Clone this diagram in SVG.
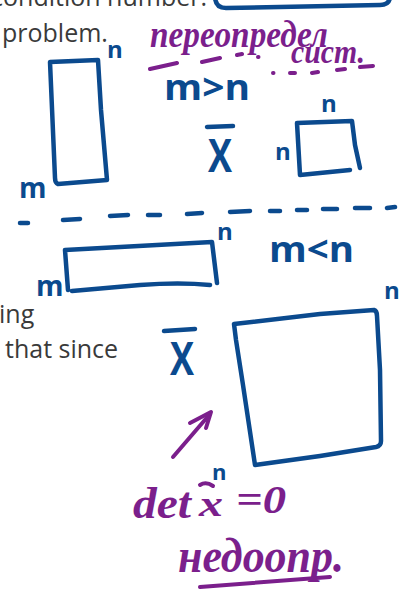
<svg xmlns="http://www.w3.org/2000/svg" width="402" height="589" viewBox="0 0 402 589">
<style>
.pg{font-family:"Open Sans","Liberation Sans",sans-serif;font-size:25px;fill:#3a3a3a}
.b{fill:none;stroke:#0b4a8e;stroke-width:4.5;stroke-linecap:round;stroke-linejoin:round}
.p{fill:none;stroke:#7b1f8c;stroke-width:4;stroke-linecap:round;stroke-linejoin:round}
.bt{font-family:"Open Sans","Liberation Sans",sans-serif;font-weight:bold;fill:#0b4a8e}
.pt{font-family:"Liberation Serif","DejaVu Serif",serif;font-style:italic;font-weight:bold;fill:#7b1f8c}
</style>
<rect width="402" height="589" fill="#ffffff"/>
<g id="page-text">
<text class="pg" x="207" y="6" text-anchor="end">condition number.</text>
<text class="pg" x="2" y="42">problem.</text>
<text class="pg" x="-1" y="323">ing</text>
<text class="pg" x="5" y="358">that since</text>
</g>
<g id="top-box"><path class="b" d="M215,-4 Q215,8 226,8 L380,5 Q390,5 390,-4"/></g>
<g id="title">
<text class="pt" x="150" y="47" font-size="38" textLength="178" lengthAdjust="spacingAndGlyphs">переопредел</text>
<text class="pt" x="291" y="63" font-size="34" textLength="74" lengthAdjust="spacingAndGlyphs">сист.</text>
<path class="p" d="M150,69 L177,63 M202,62 L220,58 M237,55 L242,54 M258,57 L258.5,57 M273,73 L273.5,73 M290,73 L295,73 M312,73 L318,72 M337,70 L345,69 M360,67 L373,66"/>
</g>
<g id="tall-matrix">
<path class="b" d="M50,62 L98,60 L101,110 L107,180 L58,184 Q55,183 55,178 L50,62"/>
<text class="bt" x="107" y="58" font-size="24">n</text>
<text class="bt" x="19" y="198" font-size="28">m</text>
</g>
<g id="cond-over"><text class="bt" x="164" y="100" font-size="36" textLength="86" lengthAdjust="spacingAndGlyphs">m&gt;n</text></g>
<g id="xbar-1">
<line class="b" x1="207" y1="127" x2="233" y2="126"/>
<text class="bt" x="208" y="172" font-size="47" textLength="24" lengthAdjust="spacingAndGlyphs">X</text>
</g>
<g id="small-square">
<path class="b" d="M297,123 L352,121 L355,145 L360,168 M350,170 L300,175 L297,123"/>
<text class="bt" x="321" y="112" font-size="24">n</text>
<text class="bt" x="275" y="160" font-size="24">n</text>
</g>
<g id="separator">
<path class="b" d="M20,223 L28,223 M63,220 L80,219 M110,216 L128,215 M148,215 L160,215 M187,214 L202,213 M230,212 L250,211 M270,211 L280,211 M297,210 L307,210 M323,209 L337,209 M355,208 L370,208 M387,208 L395,207"/>
</g>
<g id="wide-matrix">
<path class="b" d="M68,290 L65,250 L212,242 L217,283 M210,285 Q180,282 140,285 L72,291"/>
<text class="bt" x="217" y="240" font-size="24">n</text>
<text class="bt" x="36" y="296" font-size="28">m</text>
</g>
<g id="cond-under"><text class="bt" x="269" y="262" font-size="36" textLength="85" lengthAdjust="spacingAndGlyphs">m&lt;n</text></g>
<g id="xbar-2">
<line class="b" x1="164" y1="331" x2="195" y2="329"/>
<text class="bt" x="170" y="375" font-size="46" textLength="24" lengthAdjust="spacingAndGlyphs">X</text>
<text class="bt" x="384" y="299" font-size="24">n</text>
</g>
<g id="big-square">
<path class="b" d="M234,324 L320,314 L374,310 Q377,311 377,316 L380,370 L381,441 Q381,446 376,447 L320,456 L255,465 L243,385 L236,340 L234,324"/>
<text class="bt" x="212" y="480" font-size="22">n</text>
</g>
<g id="arrow">
<path class="p" d="M173,457 L210,414" stroke-width="4.5"/>
<path class="p" d="M190,423 L211,412 L206,428" stroke-width="5"/>
</g>
<g id="det">
<text class="pt" x="133" y="518" font-size="44" textLength="58" lengthAdjust="spacingAndGlyphs">det</text>
<path class="p" d="M200,485 Q206,481 213,486"/>
<text class="pt" x="199" y="516" font-size="36" textLength="24" lengthAdjust="spacingAndGlyphs">x</text>
<text class="pt" x="236" y="513" font-size="40" textLength="50" lengthAdjust="spacingAndGlyphs">=0</text>
</g>
<g id="under-det">
<text class="pt" x="178" y="572" font-size="48" textLength="166" lengthAdjust="spacingAndGlyphs">недоопр.</text>
<path class="p" d="M200,587 L330,577"/>
</g>
</svg>
